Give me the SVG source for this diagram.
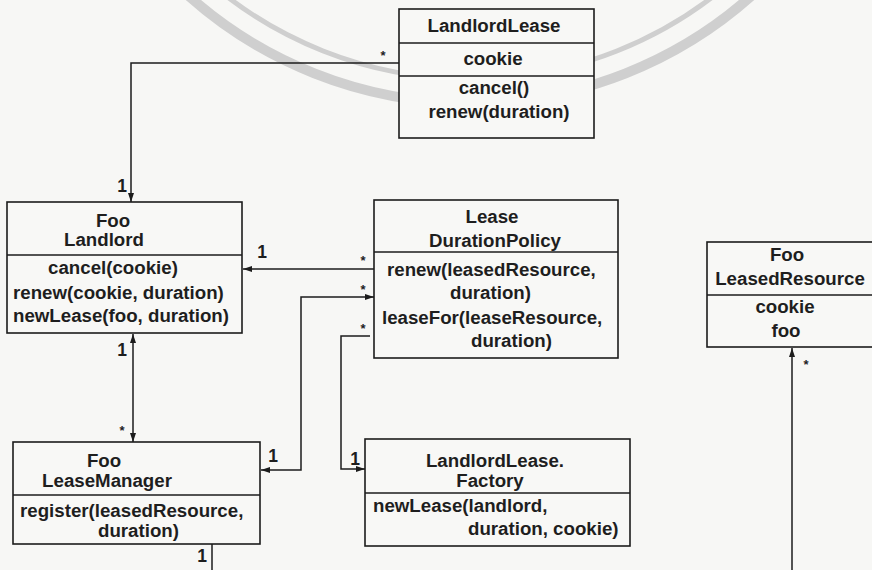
<svg xmlns="http://www.w3.org/2000/svg" width="872" height="570" viewBox="0 0 872 570">
  <style>
    .box { fill: none; stroke: #1c1c1c; stroke-width: 1.6; }
    .frame { fill: #f8f8f6; stroke: #1c1c1c; stroke-width: 1.6; }
    .ln { fill: none; stroke: #1c1c1c; stroke-width: 1.5; }
    .t { font-family: "Liberation Sans", Arial, sans-serif; font-weight: bold; font-size: 18.7px; fill: #1e1e1e; }
    .c { text-anchor: middle; }
    .one { font-family: "Liberation Sans", Arial, sans-serif; font-weight: bold; font-size: 17.5px; fill: #1e1e1e; text-anchor: middle; }
    .star { font-family: "Liberation Sans", Arial, sans-serif; font-weight: bold; font-size: 13px; fill: #1e1e1e; text-anchor: middle; }
    .wm { fill: none; stroke: #cfcfcf; }
  </style>
  <defs>
    <marker id="arr" viewBox="0 0 9 6" markerWidth="9" markerHeight="6" refX="9" refY="3" orient="auto-start-reverse" markerUnits="userSpaceOnUse">
      <path d="M0,0 L9,3 L0,6 z" fill="#1c1c1c"/>
    </marker>
  </defs>

  <rect width="872" height="570" fill="#f7f7f5"/>

  <!-- faint seal rings in the page background; only their lower rims fall on the page -->
  <g id="seal">
    <circle class="wm" cx="470" cy="-320" r="423" stroke-width="10"/>
    <circle class="wm" cx="470" cy="-320" r="399" stroke-width="5"/>
  </g>

  <!-- associations -->
  <g id="connectors">
    <path class="ln" d="M399,63 H131 V202" marker-end="url(#arr)"/>
    <path class="ln" d="M374,269 H243" marker-end="url(#arr)"/>
    <path class="ln" d="M261,470 H301 V297 H374" marker-start="url(#arr)" marker-end="url(#arr)"/>
    <path class="ln" d="M370,336 H341 V469 H365" marker-end="url(#arr)"/>
    <path class="ln" d="M133,334 V442" marker-start="url(#arr)" marker-end="url(#arr)"/>
    <path class="ln" d="M212,544 V570"/>
    <path class="ln" d="M792,570 V348" marker-end="url(#arr)"/>

    <text class="star" x="383" y="60">*</text>
    <text class="one" x="122" y="192">1</text>
    <text class="one" x="262" y="258">1</text>
    <text class="star" x="363" y="265">*</text>
    <text class="star" x="363" y="294">*</text>
    <text class="one" x="273" y="462">1</text>
    <text class="star" x="363" y="333">*</text>
    <text class="one" x="355" y="465">1</text>
    <text class="one" x="122" y="356">1</text>
    <text class="star" x="122" y="435">*</text>
    <text class="one" x="202" y="562">1</text>
    <text class="star" x="806" y="369">*</text>
  </g>

  <g id="LandlordLease">
    <rect class="frame" x="399" y="9" width="195" height="129"/>
    <line class="box" x1="399" y1="43" x2="594" y2="43"/>
    <line class="box" x1="399" y1="76" x2="594" y2="76"/>
    <text class="t c" x="494" y="32">LandlordLease</text>
    <text class="t c" x="493" y="65">cookie</text>
    <text class="t c" x="494" y="94">cancel()</text>
    <text class="t c" x="499" y="118">renew(duration)</text>
  </g>

  <g id="FooLandlord">
    <rect class="frame" x="7" y="202" width="235" height="131"/>
    <line class="box" x1="7" y1="255" x2="242" y2="255"/>
    <text class="t c" x="113" y="227">Foo</text>
    <text class="t c" x="104" y="246">Landlord</text>
    <text class="t c" x="113" y="274">cancel(cookie)</text>
    <text class="t" x="13" y="299">renew(cookie, duration)</text>
    <text class="t" x="13" y="322">newLease(foo, duration)</text>
  </g>

  <g id="LeaseDurationPolicy">
    <rect class="frame" x="374" y="200" width="244" height="158"/>
    <line class="box" x1="374" y1="252" x2="618" y2="252"/>
    <text class="t c" x="492" y="223">Lease</text>
    <text class="t c" x="495" y="247">DurationPolicy</text>
    <text class="t" x="387" y="276">renew(leasedResource,</text>
    <text class="t" x="450" y="299">duration)</text>
    <text class="t" x="382" y="324">leaseFor(leaseResource,</text>
    <text class="t" x="471" y="347">duration)</text>
  </g>

  <g id="FooLeasedResource">
    <rect class="frame" x="707" y="242" width="180" height="105"/>
    <line class="box" x1="707" y1="295" x2="887" y2="295"/>
    <text class="t c" x="787" y="261">Foo</text>
    <text class="t c" x="790" y="285">LeasedResource</text>
    <text class="t c" x="785" y="313">cookie</text>
    <text class="t c" x="786" y="337">foo</text>
  </g>

  <g id="FooLeaseManager">
    <rect class="frame" x="13" y="442" width="247" height="102"/>
    <line class="box" x1="13" y1="495" x2="260" y2="495"/>
    <text class="t c" x="104" y="467">Foo</text>
    <text class="t c" x="107" y="487">LeaseManager</text>
    <text class="t" x="20" y="517">register(leasedResource,</text>
    <text class="t" x="98" y="537">duration)</text>
  </g>

  <g id="LandlordLeaseFactory">
    <rect class="frame" x="365" y="439" width="265" height="107"/>
    <line class="box" x1="365" y1="493" x2="630" y2="493"/>
    <text class="t c" x="495" y="467">LandlordLease.</text>
    <text class="t c" x="490" y="487">Factory</text>
    <text class="t" x="373" y="512">newLease(landlord,</text>
    <text class="t" x="468" y="535">duration, cookie)</text>
  </g>
</svg>
